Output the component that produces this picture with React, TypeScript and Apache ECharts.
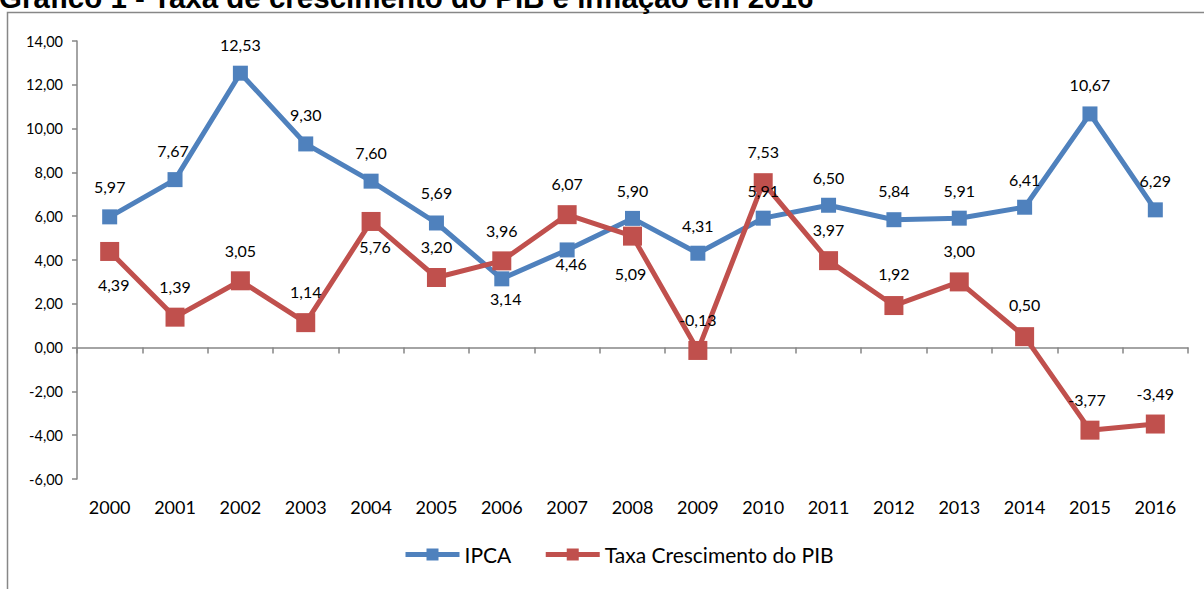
import React, { useEffect, useRef } from "react";
import * as echarts from "echarts";

const years = ["2000","2001","2002","2003","2004","2005","2006","2007","2008","2009","2010","2011","2012","2013","2014","2015","2016"];
const ipca = [5.97, 7.67, 12.53, 9.30, 7.60, 5.69, 3.14, 4.46, 5.90, 4.31, 5.91, 6.50, 5.84, 5.91, 6.41, 10.67, 6.29];
const pib = [4.39, 1.39, 3.05, 1.14, 5.76, 3.20, 3.96, 6.07, 5.09, -0.13, 7.53, 3.97, 1.92, 3.00, 0.50, -3.77, -3.49];

// label offsets (style only): [dx, dy] from point centre
const ipcaLabelOffsets = [[0,-30],[-2,-29],[0,-29],[0,-29],[0,-29],[0,-30],[4,20],[4,14],[0,-28],[0,-28],[0,-28],[0,-28],[0,-29],[0,-28],[0,-28],[0,-29],[0,-29]];
const pibLabelOffsets = [[4,33],[0,-31],[0,-30],[0,-31],[4,25],[0,-31],[0,-30],[0,-31],[-2,37],[0,-31],[0,-31],[0,-31],[0,-32],[0,-31],[0,-32],[-3,-31],[0,-31]];

const fmt = (v: number) => v.toFixed(2).replace(".", ",");
const FONT = "Lato, 'Open Sans', sans-serif";

export default function App() {
  const ref = useRef<HTMLDivElement>(null);
  useEffect(() => {
    if (!ref.current) return;
    const chart = echarts.init(ref.current, undefined, { renderer: "svg" });
    const mkData = (vals: number[], offs: number[][]) =>
      vals.map((v, i) => ({
        value: v,
        label: { offset: offs[i] },
      }));
    chart.setOption({
      animation: false,
      textStyle: { fontFamily: FONT },
      grid: { left: 77, right: 16, top: 41, bottom: 110, containLabel: false },
      graphic: [
        {
          type: "rect",
          shape: { x: 7.5, y: 12.5, width: 1500, height: 900 },
          style: { fill: "none", stroke: "#878787", lineWidth: 1.5 },
          silent: true,
        },
        {
          type: "text",
          x: -1,
          y: -2.5,
          style: {
            text: "Gráfico 1 - Taxa de crescimento do PIB e inflação em 2016",
            font: "bold 29.5px 'Liberation Sans', Arial, sans-serif",
            fill: "#000",
            verticalAlign: "middle",
          },
          silent: true,
        },
      ],
      legend: {
        bottom: 19,
        left: 398,
        itemWidth: 54,
        itemHeight: 15,
        itemGap: 32,
        lineStyle: { width: 5 },
        textStyle: { fontSize: 21, fontFamily: FONT, color: "#000" },
        data: ["IPCA", "Taxa Crescimento do PIB"],
      },
      xAxis: [
        {
          type: "category",
          data: years,
          position: "bottom",
          axisLine: { show: false, onZero: false },
          axisTick: { show: false },
          axisLabel: { fontSize: 18, color: "#000", margin: 19, fontFamily: FONT },
          splitLine: { show: false },
        },
        {
          type: "category",
          data: years,
          position: "bottom",
          axisLine: { show: true, onZero: true, lineStyle: { color: "#868686", width: 1.5 } },
          axisTick: { show: true, length: 6, inside: false, lineStyle: { color: "#868686", width: 1.5 } },
          axisLabel: { show: false },
          splitLine: { show: false },
        },
      ],
      yAxis: {
        type: "value",
        min: -6,
        max: 14,
        interval: 2,
        axisLine: { show: true, lineStyle: { color: "#868686", width: 1.5 } },
        axisTick: { show: true, length: 5, lineStyle: { color: "#868686", width: 1.5 } },
        splitLine: { show: false },
        axisLabel: { fontSize: 14.5, color: "#000", margin: 14, formatter: (v: number) => fmt(v), fontFamily: FONT },
      },
      series: [
        {
          name: "IPCA",
          type: "line",
          xAxisIndex: 0,
          data: mkData(ipca, ipcaLabelOffsets),
          symbol: "rect",
          symbolSize: 15,
          color: "#4F81BD",
          lineStyle: { width: 5, color: "#4F81BD" },
          itemStyle: { color: "#4F81BD" },
          label: {
            show: true,
            position: "inside",
            fontSize: 16,
            color: "#000",
            fontFamily: FONT,
            formatter: (p: any) => fmt(p.value),
          },
        },
        {
          name: "Taxa Crescimento do PIB",
          type: "line",
          xAxisIndex: 0,
          data: mkData(pib, pibLabelOffsets),
          symbol: "rect",
          symbolSize: 19,
          color: "#C0504D",
          lineStyle: { width: 5, color: "#C0504D" },
          itemStyle: { color: "#C0504D" },
          label: {
            show: true,
            position: "inside",
            fontSize: 16,
            color: "#000",
            fontFamily: FONT,
            formatter: (p: any) => fmt(p.value),
          },
        },
      ],
    });
    return () => chart.dispose();
  }, []);
  return (
    <div
      ref={ref}
      style={{ position: "fixed", left: 0, top: 0, width: 1204, height: 589, background: "#fff" }}
    />
  );
}
